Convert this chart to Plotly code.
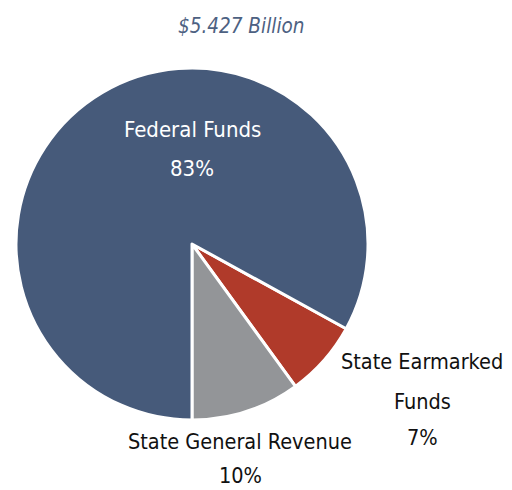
import plotly.graph_objects as go

categories = ["State Earmarked Funds", "State General Revenue", "Federal Funds"]
values = [7, 10, 83]
colors = ["#b03a2a", "#939598", "#465a7a"]
subtitle = "$5.427 Billion"

W, H = 512, 490
cx, cy, r = 192, 244, 176

fig = go.Figure(go.Pie(
    labels=categories, values=values, sort=False, direction="clockwise",
    rotation=180 - (values[0] + values[1]) * 3.6,
    marker=dict(colors=colors, line=dict(color="white", width=3)),
    textinfo="none", hoverinfo="label+percent", showlegend=False,
    domain=dict(x=[(cx - r) / W, (cx + r) / W], y=[1 - (cy + r) / H, 1 - (cy - r) / H]),
))

font = "DejaVu Sans Condensed, Liberation Sans Narrow, sans-serif"

def ann(text, x, y, color="#111111", size=21.5, italic=False):
    fig.add_annotation(text=f"<i>{text}</i>" if italic else text,
                       x=x / W, y=1 - y / H, xref="paper", yref="paper",
                       showarrow=False, xanchor="center", yanchor="middle",
                       font=dict(family=font, size=size, color=color))

ann(subtitle, 241, 26, color="#4d6182", italic=True, size=20.5)
ann(categories[2], 192, 129, color="white", size=22)
ann(f"{values[2]}%", 192, 168, color="white", size=22)
ann("State Earmarked", 422, 361)
ann("Funds", 422, 401)
ann(f"{values[0]}%", 422, 437)
ann(categories[1], 240, 441)
ann(f"{values[1]}%", 240, 475)

fig.update_layout(width=W, height=H, margin=dict(l=0, r=0, t=0, b=0),
                  paper_bgcolor="white", plot_bgcolor="white")
fig.write_html("out.html", config={"displayModeBar": False},
               post_script="document.body.style.margin='0px';")
